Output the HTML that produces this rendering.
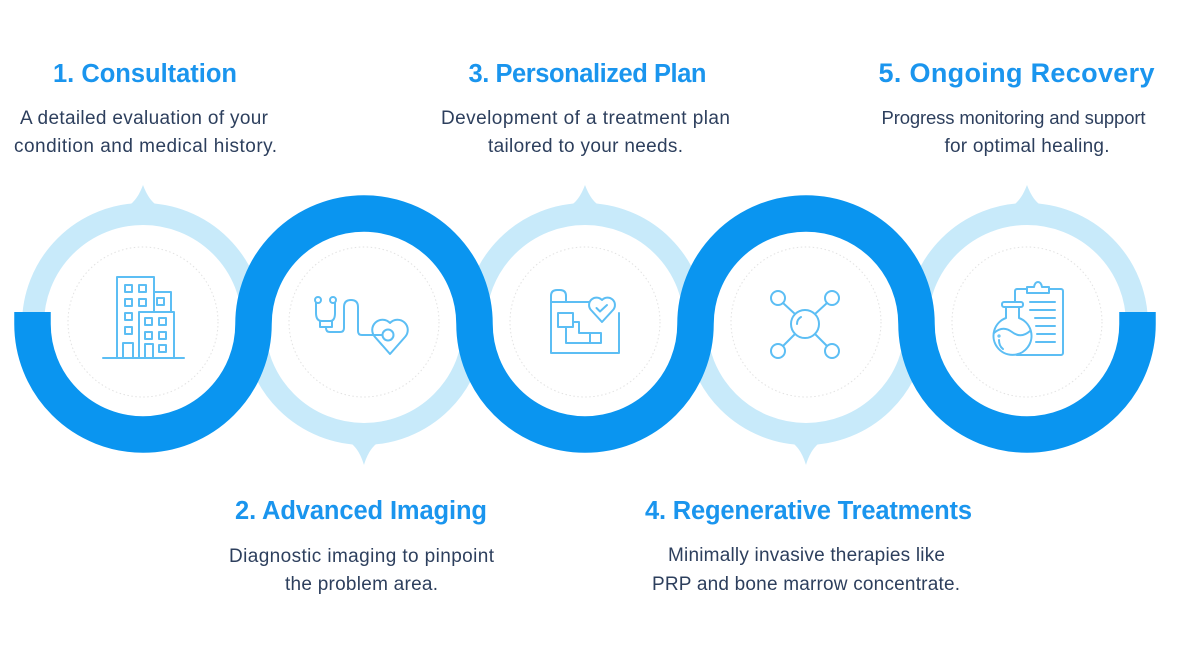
<!DOCTYPE html>
<html>
<head>
<meta charset="utf-8">
<style>
  html,body{margin:0;padding:0;background:#ffffff;}
  svg{display:block;}
  .h{font-family:"Liberation Sans",Arial,sans-serif;font-weight:bold;font-size:25.5px;fill:#1a95ee;}
  .d{font-family:"Liberation Sans",Arial,sans-serif;font-size:19px;fill:#2d3f5d;}
  .ic{fill:none;stroke:#5cbef4;stroke-width:2;stroke-linecap:round;stroke-linejoin:round;}
</style>
</head>
<body>
<svg width="1200" height="656" viewBox="0 0 1200 656" xmlns="http://www.w3.org/2000/svg">
  <!-- light rings -->
  <g fill="none" stroke="#c8eafa" stroke-width="22">
    <circle cx="143" cy="324" r="110"/>
    <circle cx="364" cy="324" r="110"/>
    <circle cx="585" cy="324" r="110"/>
    <circle cx="806" cy="324" r="110"/>
    <circle cx="1027" cy="324" r="110"/>
  </g>
  <!-- tips -->
  <g fill="#c8eafa">
    <path d="M126 207 C135 203 140 193 143 185 C146 193 151 203 160 207 Z"/>
    <path d="M568 207 C577 203 582 193 585 185 C588 193 593 203 602 207 Z"/>
    <path d="M1010 207 C1019 203 1024 193 1027 185 C1030 193 1035 203 1044 207 Z"/>
    <path d="M347 441 C356 445 361 455 364 465 C367 455 372 445 381 441 Z"/>
    <path d="M789 441 C798 445 803 455 806 465 C809 455 814 445 823 441 Z"/>
  </g>
  <!-- blue wave -->
  <path d="M32.5 312 L32.5 324 A110.5 110.5 0 0 0 253.5 324 A110.5 110.5 0 0 1 474.5 324 A110.5 110.5 0 0 0 695.5 324 A110.5 110.5 0 0 1 916.5 324 A110.5 110.5 0 0 0 1137.5 324 L1137.5 312"
        fill="none" stroke="#0a95f0" stroke-width="36.5" stroke-linecap="butt" stroke-linejoin="round"/>
  <!-- dotted inner circles -->
  <g fill="none" stroke="#e2e2e2" stroke-width="1" stroke-dasharray="1.5 2.5">
    <circle cx="143" cy="322" r="75"/>
    <circle cx="364" cy="322" r="75"/>
    <circle cx="585" cy="322" r="75"/>
    <circle cx="806" cy="322" r="75"/>
    <circle cx="1027" cy="322" r="75"/>
  </g>

  <!-- Icon 1: buildings -->
  <g class="ic">
    <rect x="117" y="277" width="37" height="81"/>
    <rect x="154" y="292" width="17" height="20"/>
    <rect x="139" y="312" width="35" height="46" fill="#fff"/>
    <rect x="125" y="285" width="7" height="7"/>
    <rect x="139" y="285" width="7" height="7"/>
    <rect x="125" y="299" width="7" height="7"/>
    <rect x="139" y="299" width="7" height="7"/>
    <rect x="125" y="313" width="7" height="7"/>
    <rect x="125" y="327" width="7" height="7"/>
    <rect x="157" y="298" width="7" height="7"/>
    <rect x="145" y="318" width="7" height="7"/>
    <rect x="159" y="318" width="7" height="7"/>
    <rect x="145" y="332" width="7" height="7"/>
    <rect x="159" y="332" width="7" height="7"/>
    <rect x="159" y="345" width="7" height="7"/>
    <path d="M123 358 L123 343 L133 343 L133 358"/>
    <path d="M145 358 L145 344 L153 344 L153 358"/>
    <line x1="103" y1="358" x2="184" y2="358"/>
  </g>

  <!-- Icon 2: stethoscope + heart -->
  <g class="ic">
    <circle cx="318" cy="300" r="3"/>
    <circle cx="333" cy="300" r="3"/>
    <path d="M316 303 L316 313 Q316 321 322 321"/>
    <path d="M335 303 L335 313 Q335 321 330 321"/>
    <rect x="320" y="321" width="12" height="6"/>
    <path d="M326 327 L326 328 Q326 332 330 332 L340 332 Q344 332 344 328 L344 307 Q344 300 351 300 Q358 300 358 307 L358 331 Q358 335 362 335 L382 335"/>
    <path d="M390 354 L375 337 A9.5 9.5 0 1 1 390 323 A9.5 9.5 0 1 1 405 337 Z"/>
    <circle cx="388" cy="335" r="5.5" fill="#fff"/>
  </g>

  <!-- Icon 3: plan -->
  <g class="ic">
    <path d="M551 302 L551 353 L619 353 L619 313"/>
    <path d="M551 302 L551 296 Q551 290 557 290 L560 290 Q566 290 566 296 L566 302 Z"/>
    <line x1="566" y1="302" x2="589" y2="302"/>
    <path d="M602 322 L591 310 A7 7 0 1 1 602 300 A7 7 0 1 1 613 310 Z"/>
    <path d="M596.5 308 L600 311.5 L607 305"/>
    <rect x="558" y="313" width="15" height="14"/>
    <path d="M566 327 L566 343 L590 343 L590 333 L579 333 L579 322 L573 322"/>
    <rect x="590" y="333" width="11" height="10"/>
  </g>

  <!-- Icon 4: molecule -->
  <g class="ic">
    <circle cx="805" cy="324" r="14"/>
    <path d="M797 324 A8 8 0 0 1 801 317"/>
    <circle cx="778" cy="298" r="7"/>
    <circle cx="832" cy="298" r="7"/>
    <circle cx="778" cy="351" r="7"/>
    <circle cx="832" cy="351" r="7"/>
    <line x1="783" y1="303" x2="795" y2="314"/>
    <line x1="827" y1="303" x2="815" y2="314"/>
    <line x1="783" y1="346" x2="795" y2="334"/>
    <line x1="827" y1="346" x2="815" y2="334"/>
  </g>

  <!-- Icon 5: clipboard + flask -->
  <g class="ic">
    <rect x="1015" y="289" width="48" height="66" rx="2"/>
    <path d="M1027 293 L1027 287 L1034 287 Q1035 282 1038 282 Q1041 282 1042 287 L1049 287 L1049 293 Z" fill="#fff"/>
    <line x1="1030" y1="302" x2="1055" y2="302"/>
    <line x1="1030" y1="310" x2="1055" y2="310"/>
    <line x1="1035" y1="318" x2="1055" y2="318"/>
    <line x1="1036" y1="326" x2="1055" y2="326"/>
    <line x1="1037" y1="334" x2="1055" y2="334"/>
    <line x1="1036" y1="342" x2="1055" y2="342"/>
    <path d="M1006 306 L1006 318 A19 19 0 1 0 1019 318 L1019 306 Z" fill="#fff"/>
    <rect x="1002" y="302" width="21" height="5" rx="2" fill="#fff"/>
    <path d="M994 333 Q1003 325 1012 332 Q1021 339 1030 331"/>
    <path d="M999 340 Q999 346 1003 349"/>
    <circle cx="999" cy="336" r="0.6"/>
  </g>

  <!-- Headings -->
  <text class="h" x="145" y="82" text-anchor="middle" textLength="184">1. Consultation</text>
  <text class="h" x="587.5" y="82" text-anchor="middle" textLength="238">3. Personalized Plan</text>
  <text class="h" x="1016.5" y="82" text-anchor="middle" textLength="276" style="font-size:27px">5. Ongoing Recovery</text>
  <text class="h" x="361" y="519" text-anchor="middle" textLength="252">2. Advanced Imaging</text>
  <text class="h" x="808.5" y="519" text-anchor="middle" textLength="327">4. Regenerative Treatments</text>

  <!-- Descriptions -->
  <text class="d" x="144" y="124" text-anchor="middle" textLength="248">A detailed evaluation of your</text>
  <text class="d" x="145.5" y="152" text-anchor="middle" textLength="263">condition and medical history.</text>

  <text class="d" x="585.5" y="124" text-anchor="middle" textLength="289">Development of a treatment plan</text>
  <text class="d" x="585.5" y="152" text-anchor="middle" textLength="195">tailored to your needs.</text>

  <text class="d" x="1013.5" y="124" text-anchor="middle" textLength="264" style="font-size:18.5px">Progress monitoring and support</text>
  <text class="d" x="1027" y="152" text-anchor="middle" textLength="165">for optimal healing.</text>

  <text class="d" x="361.5" y="562" text-anchor="middle" textLength="265">Diagnostic imaging to pinpoint</text>
  <text class="d" x="361.5" y="590" text-anchor="middle" textLength="153">the problem area.</text>

  <text class="d" x="806.5" y="561" text-anchor="middle" textLength="277">Minimally invasive therapies like</text>
  <text class="d" x="806" y="590" text-anchor="middle" textLength="308">PRP and bone marrow concentrate.</text>
</svg>
</body>
</html>
